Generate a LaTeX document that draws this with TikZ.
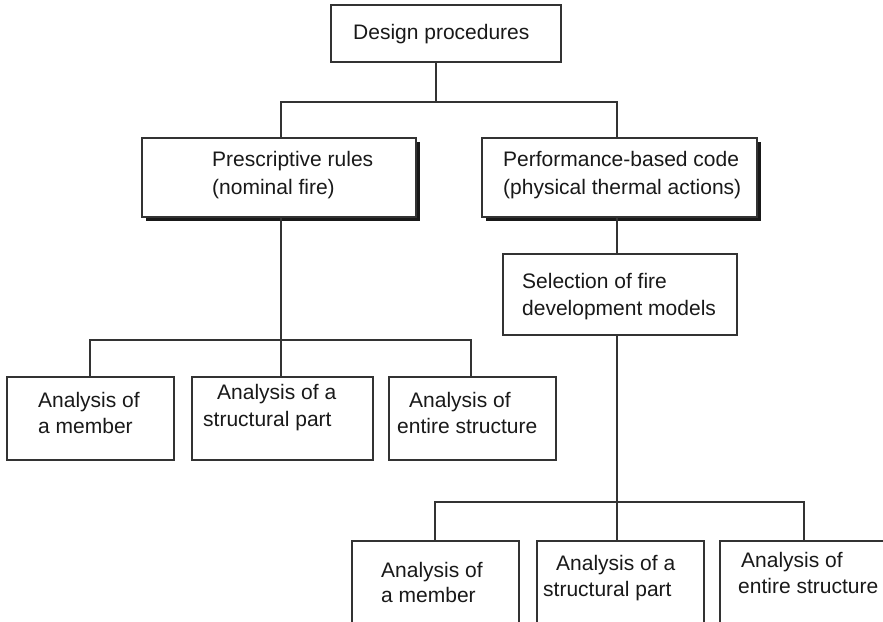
\documentclass[tikz,border=0pt]{standalone}
\usepackage{fontspec}
\setmainfont{Liberation Sans}
\usetikzlibrary{shadows}
\begin{document}
\begin{tikzpicture}[x=1pt,y=-1pt,
  box/.style={draw=black!80, line width=1.2pt, fill=white, rectangle, inner sep=0pt},
  shadowbox/.style={box, drop shadow={shadow xshift=3.5pt, shadow yshift=-3.5pt, fill=black!90, opacity=1}},
  link/.style={draw=black!80, line width=1.2pt},
  % multi-line texts are anchored on the baseline of their last line
  txt/.style={inner sep=0pt, align=left, anchor=base west, text=black!90, font=\fontsize{21}{26}\selectfont},
  wide/.style={font=\fontsize{21}{28}\selectfont}
]
\useasboundingbox (0,0) rectangle (883,621);
\clip (0,0) rectangle (883,621);

% boxes
\node[box, minimum width=230, minimum height=57] (top) at (446,33.5) {};
\node[shadowbox, minimum width=274, minimum height=79] (pres) at (279,177.5) {};
\node[shadowbox, minimum width=275, minimum height=79] (perf) at (619.5,177.5) {};
\node[box, minimum width=234, minimum height=81] (sel) at (620,294.5) {};

\node[box, minimum width=167, minimum height=83] (l1) at (90.5,418.5) {};
\node[box, minimum width=181, minimum height=83] (l2) at (282.5,418.5) {};
\node[box, minimum width=167, minimum height=83] (l3) at (472.5,418.5) {};

\node[box, minimum width=167, minimum height=100] (b1) at (435.5,591) {};
\node[box, minimum width=167, minimum height=100] (b2) at (620.5,591) {};
\node[box, minimum width=167, minimum height=100] (b3) at (803.5,591) {};

% junction points of the connector buses
\coordinate (j0) at (436,102);
\coordinate (j0l) at (281,102);
\coordinate (j0r) at (617,102);
\coordinate (j1l) at (90,340);
\coordinate (j1c) at (281,340);
\coordinate (j1r) at (471,340);
\coordinate (j2l) at (435,502);
\coordinate (j2c) at (617,502);
\coordinate (j2r) at (804,502);

% top level
\path[link] (top.south -| j0) -- (j0);
\path[link] (pres.north -| j0l) -- (j0l) -- (j0r) -- (perf.north -| j0r);

% prescriptive branch
\path[link] (pres.south -| j1c) -- (l2.north -| j1c);
\path[link] (l1.north -| j1l) -- (j1l) -- (j1r) -- (l3.north -| j1r);

% performance-based branch
\path[link] (perf.south -| j0r) -- (sel.north -| j0r);
\path[link] (sel.south -| j2c) -- (b2.north -| j2c);
\path[link] (b1.north -| j2l) -- (j2l) -- (j2r) -- (b3.north -| j2r);

% texts
\node[txt] (ttop) at (353,39) {Design procedures};
\node[txt, wide] (tpres) at (212,194) {Prescriptive rules\\(nominal fire)};
\node[txt, wide] (tperf) at (503,194) {Performance-based code\\(physical thermal actions)};
\node[txt, font=\fontsize{21}{27}\selectfont] (tsel) at (522,315) {Selection of fire\\development models};

\node[txt] (tl1) at (38,433) {Analysis of\\a member};
\node[txt, font=\fontsize{21}{27}\selectfont] (tl2) at (203,426) {\hspace*{14pt}Analysis of a\\structural part};
\node[txt] (tl3) at (397,433) {\hspace*{12pt}Analysis of\\entire structure};

\node[txt, font=\fontsize{21}{25}\selectfont] (tb1) at (381,602) {Analysis of\\a member};
\node[txt] (tb2) at (543,596) {\hspace*{13pt}Analysis of a\\structural part};
\node[txt] (tb3) at (738,593) {\hspace*{3pt}Analysis of\\entire structure};
\end{tikzpicture}
\end{document}
